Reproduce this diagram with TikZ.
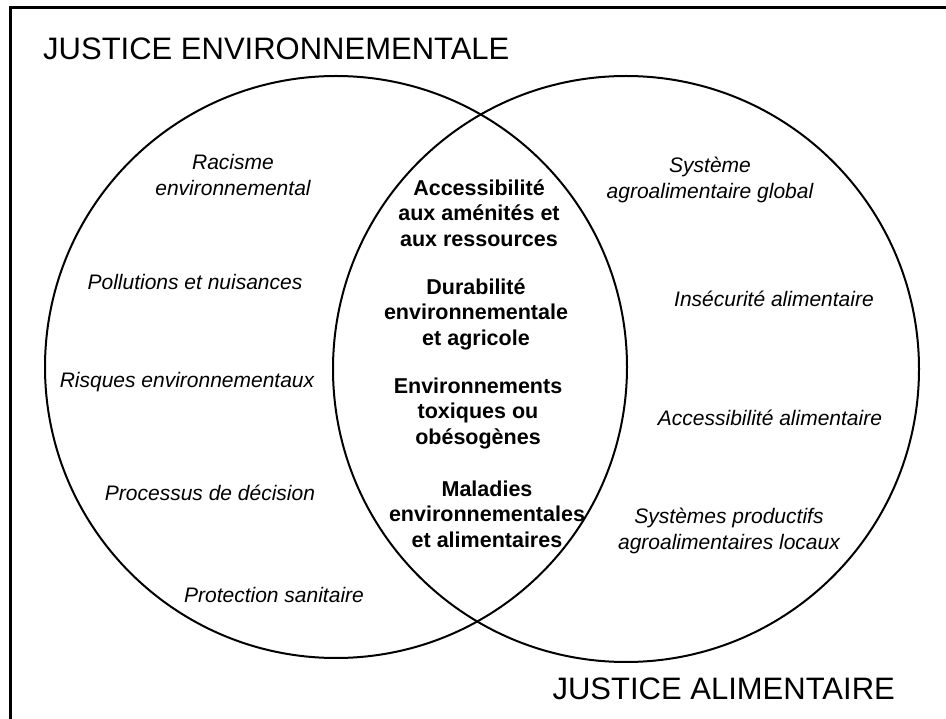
\documentclass[tikz,border=0pt]{standalone}
\usepackage{fontspec}
\setmainfont{Liberation Sans}
\tikzset{
  item/.style={align=center, inner sep=0pt, font=\fontsize{21}{26}\selectfont\itshape},
  shared/.style={align=center, inner sep=0pt, font=\fontsize{21.5}{25.5}\selectfont\bfseries},
  title/.style={inner sep=0pt, font=\fontsize{31}{36}\selectfont}
}
\begin{document}
\begin{tikzpicture}[x=1pt, y=-1pt]
\useasboundingbox (0,0) rectangle (946,719);
\draw[line width=3pt] (10,719) -- (10,8) -- (946,8);

\coordinate (envc) at (336,367);
\coordinate (alic) at (626,369);
\draw[line width=2pt] (envc) circle [radius=291pt];
\draw[line width=2pt] (alic) circle [radius=293pt];

\node[title, anchor=base west] (envtitle) at (43,60) {JUSTICE ENVIRONNEMENTALE};
\node[title, anchor=base east] (alititle) at (895,699) {JUSTICE ALIMENTAIRE};

\node[item] (racisme) at (233,175) {Racisme\\environnemental};
\node[item] (pollution) at (195,282) {Pollutions et nuisances};
\node[item] (risques) at (187,382) {Risques environnementaux};
\node[item] (decision) at (210,493) {Processus de décision};
\node[item] (sanitaire) at (274,595) {Protection sanitaire};

\node[item] (global) at (710,180) {Système\\agroalimentaire global};
\node[item] (insecurite) at (774,299) {Insécurité alimentaire};
\node[item] (accesali) at (770,418) {Accessibilité alimentaire};
\node[item] (locaux) at (729,531) {Systèmes productifs\\agroalimentaires locaux};

\node[shared] (amenites) at (479,213) {Accessibilité\\aux aménités et\\aux ressources};
\node[shared] (durabilite) at (476,314) {Durabilité\\environnementale\\et agricole};
\node[shared] (toxiques) at (478,413) {Environnements\\toxiques ou\\obésogènes};
\node[shared] (maladies) at (487,514) {Maladies\\environnementales\\et alimentaires};
\end{tikzpicture}
\end{document}
